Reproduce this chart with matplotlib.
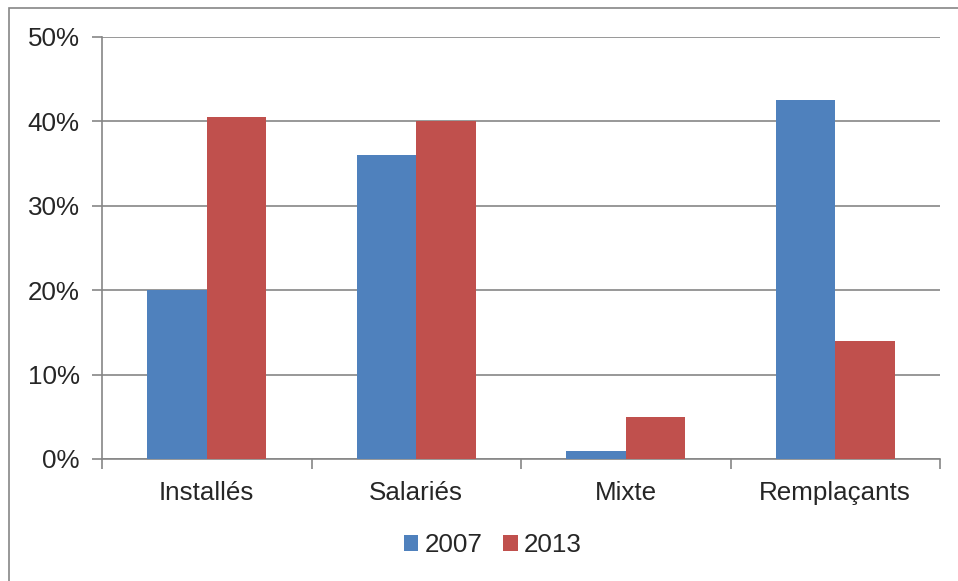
import matplotlib
matplotlib.use("Agg")
import matplotlib.pyplot as plt
from matplotlib.patches import Rectangle
import numpy as np

categories = ["Installés", "Salariés", "Mixte", "Remplaçants"]
series_names = ["2007", "2013"]
values_2007 = [20, 36, 1, 42.5]
values_2013 = [40.5, 40, 5, 14]
y_ticks = [0, 10, 20, 30, 40, 50]
y_tick_labels = ["0%", "10%", "20%", "30%", "40%", "50%"]

plt.rcParams['font.family'] = ['Liberation Sans', 'DejaVu Sans']

fig = plt.figure(figsize=(9.58, 5.81), dpi=100)
W, H = 958, 581
ax = fig.add_axes([102 / W, 1 - 459 / H, (940 - 102) / W, (459 - 37) / H])

grid_c = "#868686"
text_c = "#262626"
blue = "#4F81BD"
red = "#C0504D"
fs = 18.7

x = np.arange(len(categories))
bw = 0.284
ax.bar(x - bw / 2, values_2007, width=bw, color=blue, label=series_names[0], zorder=3)
ax.bar(x + bw / 2, values_2013, width=bw, color=red, label=series_names[1], zorder=3)

ax.set_xlim(-0.5, len(categories) - 0.5)
ax.set_ylim(0, 50)
ax.set_yticks(y_ticks)
ax.set_yticklabels(y_tick_labels, fontsize=fs, color=text_c)
ax.yaxis.grid(True, color=grid_c, linewidth=1.2, zorder=0)
ax.set_axisbelow(True)

ax.set_xticks(np.arange(len(categories) + 1) - 0.5, minor=False)
ax.set_xticklabels([])
ax.set_xticks(x, minor=True)
ax.set_xticklabels(categories, minor=True, fontsize=fs, color=text_c)
ax.tick_params(axis='x', which='major', length=7, width=1.2, color=grid_c, direction='out')
ax.tick_params(axis='x', which='minor', length=0, pad=16)
ax.tick_params(axis='y', length=7, width=1.2, color=grid_c, direction='out', pad=9)

for s in ['top', 'right']:
    ax.spines[s].set_visible(False)
for s in ['left', 'bottom']:
    ax.spines[s].set_color(grid_c)
    ax.spines[s].set_linewidth(1.2)

leg = fig.legend(loc='center', bbox_to_anchor=(493 / W, 1 - 545 / H), ncol=2, frameon=False,
                 fontsize=fs, handlelength=0.55, handleheight=0.55, handletextpad=0.25,
                 columnspacing=0.8)
for t in leg.get_texts():
    t.set_color(text_c)

# outer chart border
fig.patches.append(Rectangle((9 / W, -0.1), 1.2, 1 - 8 / H + 0.1, transform=fig.transFigure,
                             fill=False, edgecolor=grid_c, linewidth=1.2))

fig.savefig("out.png", dpi=100)
